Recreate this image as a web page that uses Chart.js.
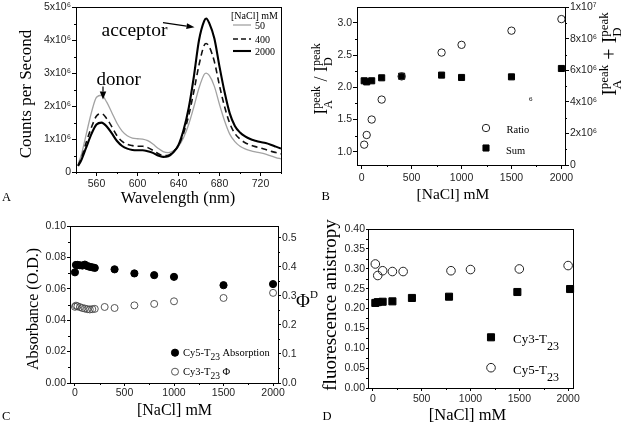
<!DOCTYPE html>
<html><head><meta charset="utf-8">
<script src="https://cdn.jsdelivr.net/npm/chart.js@4.4.0/dist/chart.umd.min.js"></script>
<style>
html,body{margin:0;padding:0;background:#fff;}
#wrap{position:relative;width:622px;height:425px;overflow:hidden;background:#fff;}
canvas{position:absolute;left:0;top:0;pointer-events:none;}
</style></head><body>
<div id="wrap">
<canvas id="cA" width="622" height="425"></canvas>
<canvas id="cB" width="622" height="425"></canvas>
<canvas id="cC" width="622" height="425"></canvas>
<canvas id="cD" width="622" height="425"></canvas>
</div>
<script>
// ---------- Panel A: emission spectra (counts in units of 10^6) ----------
const wavelengthNm = [542,545,550,555,560,565,570,575,580,585,590,595,600,605,610,615,620,625,630,635,640,645,650,655,660,665,667,670,675,680,685,690,695,700,705,710,715,720,725,730,735,740];
const counts50mM   = [0.25,0.5,1.15,1.8,2.27,2.33,2.12,1.8,1.48,1.24,1.1,1.03,1.01,1.0,0.95,0.85,0.72,0.62,0.59,0.64,0.78,1.05,1.45,1.98,2.55,2.96,3.0,2.93,2.6,2.05,1.55,1.15,0.92,0.78,0.7,0.65,0.61,0.58,0.54,0.49,0.44,0.4];
const counts400mM  = [0.2,0.4,0.9,1.35,1.7,1.77,1.62,1.37,1.1,0.93,0.84,0.8,0.78,0.78,0.74,0.66,0.56,0.5,0.51,0.62,0.8,1.18,1.72,2.45,3.25,3.84,3.9,3.8,3.35,2.62,1.98,1.48,1.17,1.0,0.89,0.82,0.77,0.73,0.68,0.63,0.59,0.55];
const counts2000mM = [0.18,0.35,0.75,1.15,1.44,1.5,1.38,1.17,0.94,0.79,0.71,0.67,0.66,0.66,0.63,0.58,0.5,0.46,0.48,0.6,0.82,1.28,1.95,2.9,4.0,4.58,4.66,4.52,4.05,3.2,2.42,1.78,1.4,1.2,1.08,1.0,0.95,0.91,0.88,0.83,0.77,0.71];
const wavelengthTicks = [560,600,640,680,720];
const countsTicks = [0,1,2,3,4,5];
const legendA = ['50','400','2000'];

// ---------- Panel B ----------
const naclB = [25,50,100,200,400,800,1000,1500,2000];
const ratioAD = [1.11,1.26,1.50,1.81,2.17,2.54,2.66,2.88,3.06];
const sumAD = [5.34,5.27,5.34,5.53,5.63,5.70,5.55,5.59,6.12]; // x10^6
const naclTicks = [0,500,1000,1500,2000];
const ratioTicks = [1.0,1.5,2.0,2.5,3.0];
const sumTicks = [0,2,4,6,8,10];

// ---------- Panel C ----------
const naclAbs = [0,10,25,50,75,100,125,150,175,200,400,600,800,1000,1500,2000];
const cy5Absorbance = [0.0705,0.0752,0.0752,0.075,0.0748,0.0754,0.0745,0.074,0.0737,0.0733,0.0724,0.0698,0.0687,0.0676,0.0623,0.063];
const naclPhi = [0,10,25,50,75,100,125,150,175,200,300,400,600,800,1000,1500,2000];
const cy3Phi = [0.262,0.266,0.264,0.261,0.258,0.256,0.254,0.253,0.254,0.255,0.2615,0.258,0.267,0.272,0.281,0.2925,0.31];
const absTicks = [0,0.02,0.04,0.06,0.08,0.10];
const phiTicks = [0,0.1,0.2,0.3,0.4,0.5];

// ---------- Panel D ----------
const naclCy5 = [25,50,100,200,310,800,1000,1500,2000];
const cy5Anisotropy = [0.312,0.283,0.295,0.293,0.293,0.295,0.298,0.2995,0.308];
const naclCy3 = [25,50,100,200,400,780,1480,2020];
const cy3Anisotropy = [0.214,0.216,0.217,0.218,0.2265,0.2297,0.2415,0.249];
const anisoTicks = [0,0.05,0.10,0.15,0.20,0.25,0.30,0.35,0.40];

const fontSans = '"Liberation Sans", Arial, sans-serif';
const fontSerif = '"Liberation Serif", "Times New Roman", serif';

function pts(xs, ys){ return xs.map((x,i)=>({x:x, y:ys[i]})); }

function axis(o){
  return {
    type:'linear', position:o.pos, min:o.min, max:o.max,
    afterBuildTicks: s => { s.ticks = o.ticks.map(v => ({value:v})); },
    afterFit: s => { if (o.pos==='bottom'||o.pos==='top') s.height=o.size; else s.width=o.size; },
    border:{display:false},
    grid:{display:true, drawOnChartArea:false, drawTicks:true, tickLength:o.tl, tickWidth:1, tickColor:'#000', color:'#000', lineWidth:1},
    ticks:{autoSkip:false, maxRotation:0, minRotation:0, padding:o.pad, color:'#1e1e1e', font:{family:fontSans, size:o.fs||10.5}, callback:o.fmt},
    title:{display:false}
  };
}
function baseOpts(padding, scales){
  return {responsive:false, animation:false, devicePixelRatio:1, events:[],
    layout:{padding:padding},
    plugins:{legend:{display:false}, tooltip:{enabled:false}},
    scales:scales};
}
const fmtE6 = v => v===0 ? '0' : (v===10 ? '1x10\u2077' : v+'x10\u2076');

const minorCfg = {
  cA:{x:{step:20,len:2}, y:{step:0.5,len:2}},
  cB:{x:{step:250,len:2}, y:{step:0.25,len:2}, y2:{step:1,len:2}},
  cC:{x:{step:250,len:2}, y:{step:0.01,len:2}, y2:{step:0.05,len:2}},
  cD:{x:{step:250,len:2}, y:{step:0.025,len:2}}
};

function text(ctx, s, x, y, size, o){
  o = o||{};
  ctx.save();
  ctx.font = size+'px '+(o.family||fontSerif);
  ctx.fillStyle = o.color||'#000';
  ctx.textAlign = o.align||'left';
  ctx.textBaseline = o.base||'alphabetic';
  ctx.translate(x,y); if(o.rot) ctx.rotate(o.rot);
  ctx.fillText(s,0,0);
  ctx.restore();
}
function rich(ctx, parts, x, y, o){
  o = o||{};
  let maxC=0, lastStart=0; const pos=[];
  parts.forEach(p=>{
    ctx.font = p.s+'px '+fontSerif;
    const w = ctx.measureText(p.t).width;
    const start = p.stack ? lastStart : maxC;
    pos.push(start); lastStart = start;
    maxC = Math.max(maxC, start+w);
  });
  const off = o.align==='center' ? -maxC/2 : 0;
  ctx.save(); ctx.fillStyle='#000'; ctx.textAlign='left'; ctx.textBaseline='alphabetic';
  ctx.translate(x,y); if(o.rot) ctx.rotate(o.rot);
  parts.forEach((p,i)=>{ ctx.font = p.s+'px '+fontSerif; ctx.fillText(p.t, off+pos[i], p.dy||0); });
  ctx.restore();
}
function arrow(ctx,x1,y1,x2,y2,hl,hw,lw){
  const a=Math.atan2(y2-y1,x2-x1);
  const bx=x2-hl*Math.cos(a), by=y2-hl*Math.sin(a);
  ctx.save(); ctx.strokeStyle='#000'; ctx.fillStyle='#000'; ctx.lineWidth=lw;
  ctx.beginPath(); ctx.moveTo(x1,y1); ctx.lineTo(bx,by); ctx.stroke();
  ctx.beginPath(); ctx.moveTo(x2,y2);
  ctx.lineTo(bx+hw/2*Math.sin(a), by-hw/2*Math.cos(a));
  ctx.lineTo(bx-hw/2*Math.sin(a), by+hw/2*Math.cos(a));
  ctx.closePath(); ctx.fill(); ctx.restore();
}
function marker(ctx, style, x, y, r, fill, stroke, lw){
  ctx.save(); ctx.beginPath();
  if(style==='circle') ctx.arc(x,y,r,0,Math.PI*2);
  else { const h=r*Math.SQRT1_2; ctx.rect(x-h,y-h,2*h,2*h); }
  if(fill){ctx.fillStyle=fill; ctx.fill();}
  if(stroke){ctx.strokeStyle=stroke; ctx.lineWidth=lw; ctx.stroke();}
  ctx.restore();
}
function legendLine(ctx,x1,x2,y,color,w,dash){
  ctx.save(); ctx.strokeStyle=color; ctx.lineWidth=w; ctx.setLineDash(dash||[]);
  ctx.beginPath(); ctx.moveTo(x1,y); ctx.lineTo(x2,y); ctx.stroke(); ctx.restore();
}

const decor = {
  cA(ctx){
    text(ctx,'Counts per Second',27,94,17,{align:'center',base:'middle',rot:-Math.PI/2});
    text(ctx,'Wavelength (nm)',178,199,16.5,{align:'center',base:'middle'});
    text(ctx,'A',2,198,12.5,{base:'middle'});
    text(ctx,'acceptor',101.5,36,19.5);
    text(ctx,'donor',96.5,85,19);
    arrow(ctx,163,22.7,194.5,27.3,8,6,1.2);
    arrow(ctx,103,86.5,103,99.5,8,6.5,1.2);
    text(ctx,'[NaCl] mM',231,18.5,10);
    legendLine(ctx,233,251,25,'#a3a3a3',1.3);
    legendLine(ctx,233,251,39,'#111',1.6,[5,3]);
    legendLine(ctx,233,251,51,'#000',2.1);
    text(ctx,legendA[0],255,29,10);
    text(ctx,legendA[1],255,42.5,10);
    text(ctx,legendA[2],255,54.5,10);
  },
  cB(ctx){
    rich(ctx,[{t:'I',s:18},{t:'peak',s:12,dy:-7},{t:'A',s:12,dy:5,stack:true},{t:' / ',s:18},{t:'I',s:18},{t:'peak',s:12,dy:-7},{t:'D',s:12,dy:5,stack:true}],327,79,{align:'center',rot:-Math.PI/2});
    rich(ctx,[{t:'I',s:20},{t:'peak',s:13,dy:-8},{t:'A',s:13,dy:5,stack:true},{t:' + ',s:20},{t:'I',s:20},{t:'peak',s:13,dy:-8},{t:'D',s:13,dy:5,stack:true}],616,54,{align:'center',rot:-Math.PI/2});
    text(ctx,'[NaCl] mM',453,195,15.5,{align:'center',base:'middle'});
    text(ctx,'B',321.5,197,12.5,{base:'middle'});
    text(ctx,'6',530.7,99,7,{align:'center',base:'middle'});
    marker(ctx,'circle',486,128,3.7,null,'#222',1);
    marker(ctx,'rect',486,148,4.3,'#000','#000',1);
    text(ctx,'Ratio',506.5,133,10.5);
    text(ctx,'Sum',506,154,10.5);
  },
  cC(ctx){
    text(ctx,'Absorbance (O.D.)',34,309,16,{align:'center',base:'middle',rot:-Math.PI/2});
    text(ctx,'[NaCl] mM',174.5,410.5,16,{align:'center',base:'middle'});
    text(ctx,'C',2,416.5,12.5,{base:'middle'});
    rich(ctx,[{t:'\u03A6',s:19},{t:'D',s:11,dy:-9}],296,307);
    marker(ctx,'circle',175,352.7,3.6,'#000','#000',1);
    marker(ctx,'circle',175,371.7,3.5,null,'#444',0.9);
    rich(ctx,[{t:'Cy5-T',s:10.5},{t:'23',s:9.5,dy:3.5},{t:' Absorption',s:10.5}],183,356.3);
    rich(ctx,[{t:'Cy3-T',s:10.5},{t:'23',s:9.5,dy:3.5},{t:' \u03A6',s:10.5}],183,375.3);
  },
  cD(ctx){
    text(ctx,'fluorescence anistropy',331,305,19,{align:'center',base:'middle',rot:-Math.PI/2});
    text(ctx,'[NaCl] mM',467.5,415.5,16.5,{align:'center',base:'middle'});
    text(ctx,'D',322.5,416.5,12.5,{base:'middle'});
    marker(ctx,'rect',491,337.3,5,'#000','#000',1);
    marker(ctx,'circle',491,367.7,4.3,null,'#222',1);
    rich(ctx,[{t:'Cy3-T',s:13},{t:'23',s:12,dy:7}],513,343);
    rich(ctx,[{t:'Cy5-T',s:13},{t:'23',s:12,dy:7}],513,374);
  }
};

Chart.register({
  id:'decor',
  afterDraw(chart){
    const ctx=chart.ctx, a=chart.chartArea, id=chart.canvas.id;
    const cfg=minorCfg[id];
    ctx.save(); ctx.strokeStyle='#000'; ctx.lineWidth=1;
    if(cfg){
      for(const sid in cfg){
        const s=chart.scales[sid]; if(!s) continue;
        const step=cfg[sid].step, len=cfg[sid].len;
        const majors=s.ticks.map(t=>t.value);
        const k0=Math.ceil(s.min/step-1e-9), k1=Math.floor(s.max/step+1e-9);
        ctx.beginPath();
        for(let k=k0;k<=k1;k++){
          const v=k*step;
          if(majors.some(m=>Math.abs(m-v)<step*1e-3)) continue;
          const p=Math.round(s.getPixelForValue(v))+0.5;
          if(s.isHorizontal()){ctx.moveTo(p,a.bottom);ctx.lineTo(p,a.bottom+len);}
          else if(s.position==='left'){ctx.moveTo(a.left-len,p);ctx.lineTo(a.left,p);}
          else {ctx.moveTo(a.right,p);ctx.lineTo(a.right+len,p);}
        }
        ctx.stroke();
      }
    }
    const L=Math.round(a.left), T=Math.round(a.top), R=Math.round(a.right), B=Math.round(a.bottom);
    ctx.strokeRect(L+0.5,T+0.5,R-L,B-T);
    ctx.restore();
    if(decor[id]) decor[id](ctx);
  }
});

// Panel A
new Chart(document.getElementById('cA'),{
  type:'line',
  data:{datasets:[
    {data:pts(wavelengthNm,counts2000mM),borderColor:'#000',borderWidth:2.1,pointRadius:0,cubicInterpolationMode:'monotone',fill:false},
    {data:pts(wavelengthNm,counts400mM),borderColor:'#111',borderWidth:1.6,borderDash:[6,4],pointRadius:0,cubicInterpolationMode:'monotone',fill:false},
    {data:pts(wavelengthNm,counts50mM),borderColor:'#a3a3a3',borderWidth:1.3,pointRadius:0,cubicInterpolationMode:'monotone',fill:false}
  ]},
  options:baseOpts({left:36,right:341,top:7,bottom:223},{
    x:axis({pos:'bottom',min:540,max:740,ticks:wavelengthTicks,size:30,tl:4,pad:2,fmt:v=>String(v)}),
    y:axis({pos:'left',min:0,max:5,ticks:countsTicks,size:40,tl:4,pad:1,fmt:fmtE6})
  })
});

// Panel B
new Chart(document.getElementById('cB'),{
  type:'scatter',
  data:{datasets:[
    {data:pts(naclB,ratioAD),yAxisID:'y',pointStyle:'circle',pointRadius:3.7,backgroundColor:'rgba(0,0,0,0)',borderColor:'#222',borderWidth:1,clip:false},
    {data:pts(naclB,sumAD),yAxisID:'y2',pointStyle:'rect',pointRadius:4.3,backgroundColor:'#000',borderColor:'#000',borderWidth:1,clip:false}
  ]},
  options:baseOpts({left:317,right:12,top:7,bottom:230},{
    x:axis({pos:'bottom',min:-47,max:2036,ticks:naclTicks,size:30,tl:4,pad:3,fmt:v=>String(v)}),
    y:axis({pos:'left',min:0.794,max:3.243,ticks:ratioTicks,size:40,tl:4,pad:1,fmt:v=>v.toFixed(1)}),
    y2:axis({pos:'right',min:0,max:10,ticks:sumTicks,size:45,tl:4,pad:1,fmt:fmtE6})
  })
});

// Panel C
new Chart(document.getElementById('cC'),{
  type:'scatter',
  data:{datasets:[
    {data:pts(naclAbs,cy5Absorbance),yAxisID:'y',pointStyle:'circle',pointRadius:3.6,backgroundColor:'#000',borderColor:'#000',borderWidth:1,clip:false},
    {data:pts(naclPhi,cy3Phi),yAxisID:'y2',pointStyle:'circle',pointRadius:3.5,backgroundColor:'rgba(255,255,255,0)',borderColor:'#444',borderWidth:0.9,clip:false}
  ]},
  options:baseOpts({left:30,right:314,top:226,bottom:12},{
    x:axis({pos:'bottom',min:-50,max:2050,ticks:naclTicks,size:30,tl:3,pad:1,fmt:v=>String(v)}),
    y:axis({pos:'left',min:0,max:0.1,ticks:absTicks,size:40,tl:3,pad:1,fmt:v=>v.toFixed(2)}),
    y2:axis({pos:'right',min:0,max:0.54,ticks:phiTicks,size:30,tl:3,pad:1,fmt:v=>v.toFixed(1)})
  })
});

// Panel D
new Chart(document.getElementById('cD'),{
  type:'scatter',
  data:{datasets:[
    {data:pts(naclCy5,cy5Anisotropy),pointStyle:'circle',pointRadius:4.3,backgroundColor:'rgba(255,255,255,0)',borderColor:'#222',borderWidth:1,clip:false},
    {data:pts(naclCy3,cy3Anisotropy),pointStyle:'rect',pointRadius:5,backgroundColor:'#000',borderColor:'#000',borderWidth:1,clip:false}
  ]},
  options:baseOpts({left:328,right:49,top:229,bottom:7},{
    x:axis({pos:'bottom',min:-50,max:2050,ticks:naclTicks,size:30,tl:3,pad:2,fmt:v=>String(v)}),
    y:axis({pos:'left',min:0,max:0.4,ticks:anisoTicks,size:40,tl:2,pad:1,fmt:v=>v.toFixed(2)})
  })
});
</script>
</body></html>
